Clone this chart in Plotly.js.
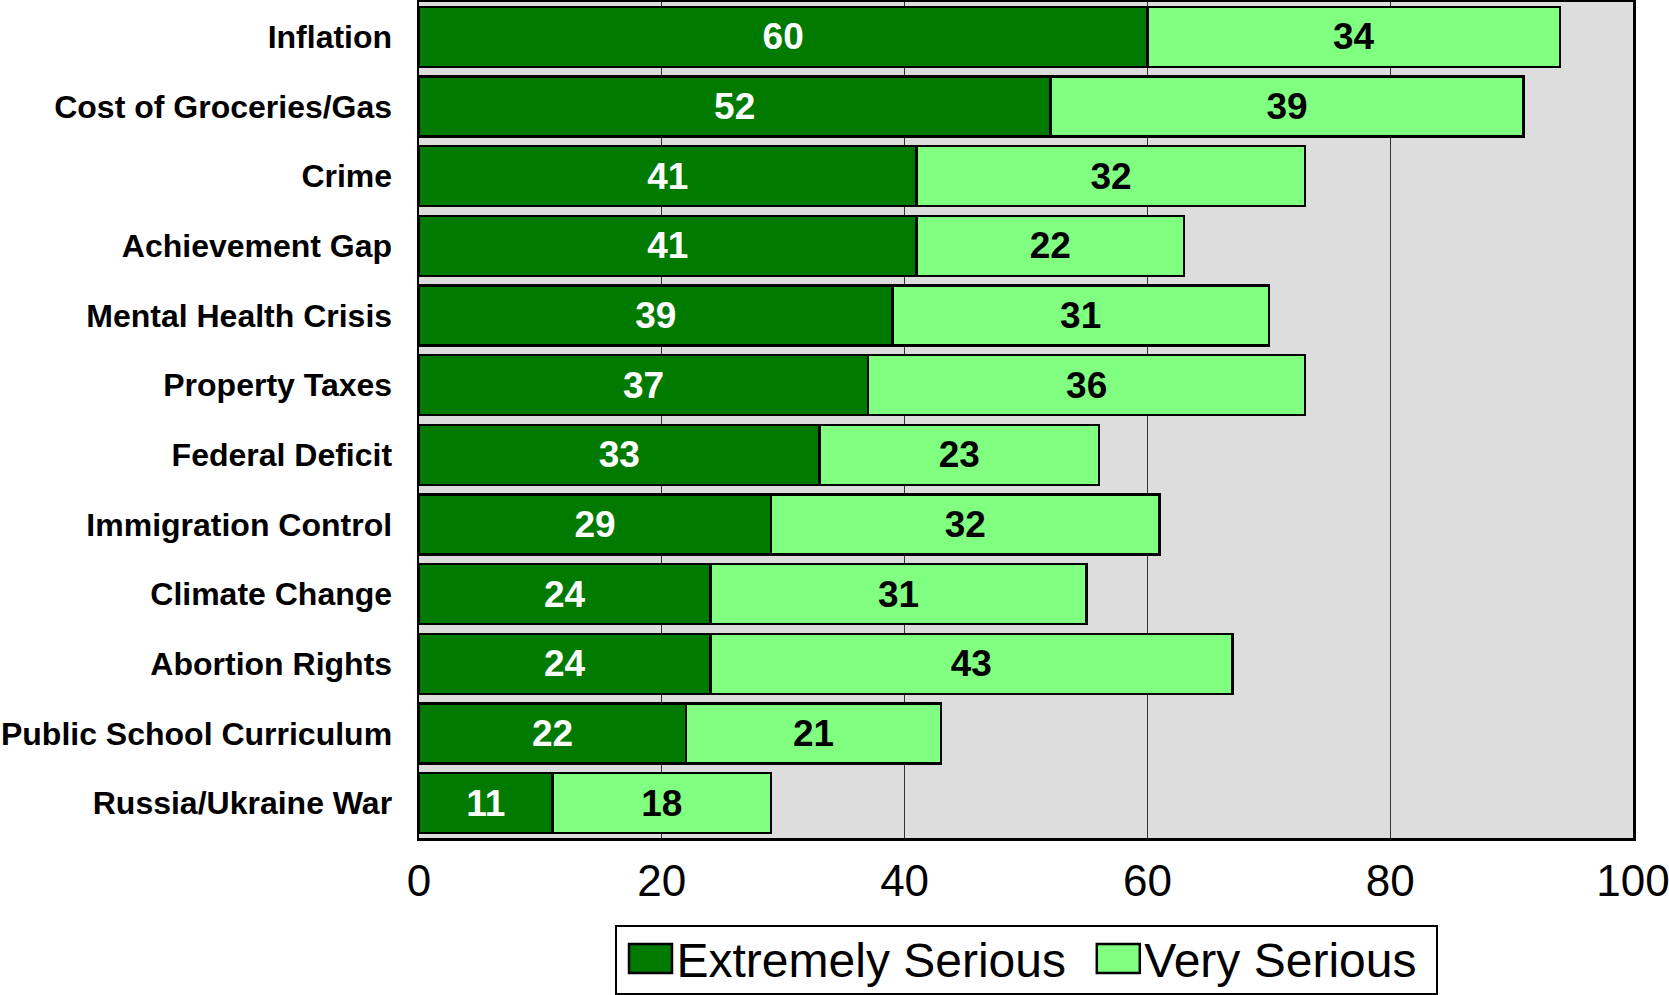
<!DOCTYPE html>
<html>
<head>
<meta charset="utf-8">
<script src="https://cdn.plot.ly/plotly-3.0.1.min.js"></script>
<style>html,body{margin:0;padding:0;background:#fff;}#chart{width:1669px;height:995px;}</style>
</head>
<body>
<div id="chart"></div>
<script>
const categories = ["Inflation","Cost of Groceries/Gas","Crime","Achievement Gap","Mental Health Crisis","Property Taxes","Federal Deficit","Immigration Control","Climate Change","Abortion Rights","Public School Curriculum","Russia/Ukraine War"];
const extremelySerious = [60,52,41,41,39,37,33,29,24,24,22,11];
const verySerious = [34,39,32,22,31,36,23,32,31,43,21,18];
const xTicks = [0,20,40,60,80,100];
const seriesNames = ["Extremely Serious", "Very Serious"];

const FONT = "Arial, 'Liberation Sans', sans-serif";
const LEGEND_FS = 48;

const traces = [
  {
    type: 'bar', orientation: 'h', name: seriesNames[0] + '\u00A0',
    y: categories, x: extremelySerious,
    marker: {color: '#007A00', line: {color: '#000', width: 2.5}},
    text: extremelySerious.map(String), textposition: 'inside', insidetextanchor: 'middle',
    textangle: 0, constraintext: 'none',
    textfont: {family: FONT, size: 37, color: '#fff', weight: 'bold'},
    hoverinfo: 'x+y'
  },
  {
    type: 'bar', orientation: 'h', name: seriesNames[1] + '\u00A0',
    y: categories, x: verySerious,
    marker: {color: '#80FF80', line: {color: '#000', width: 2.5}},
    text: verySerious.map(String), textposition: 'inside', insidetextanchor: 'middle',
    textangle: 0, constraintext: 'none',
    textfont: {family: FONT, size: 37, color: '#000', weight: 'bold'},
    hoverinfo: 'x+y'
  }
];

const layout = {
  width: 1669, height: 995,
  margin: {l: 419, r: 36, t: 2, b: 157, pad: 0, autoexpand: false},
  paper_bgcolor: '#fff', plot_bgcolor: '#DDDDDD',
  barmode: 'stack', bargap: 0.14,
  font: {family: FONT, color: '#000'},
  xaxis: {
    range: [0, 100], tickvals: xTicks, ticktext: xTicks.map(String),
    showgrid: true, gridcolor: '#333', gridwidth: 1,
    showline: true, mirror: true, linecolor: '#000', linewidth: 2.5,
    zeroline: false, ticks: '', ticklabelstandoff: 3, ticklabeloverflow: 'allow',
    automargin: false,
    tickfont: {family: FONT, size: 44, color: '#000'}, fixedrange: true
  },
  yaxis: {
    autorange: 'reversed', showgrid: false,
    showline: true, mirror: true, linecolor: '#000', linewidth: 2.5,
    ticks: '', ticklabelstandoff: 18, automargin: false,
    tickfont: {family: FONT, size: 32, color: '#000', weight: 'bold'}, fixedrange: true
  },
  showlegend: true,
  legend: {
    orientation: 'h', x: 0.5, xanchor: 'center', y: -0.104, yanchor: 'top',
    bgcolor: '#fff', bordercolor: '#000', borderwidth: 2,
    font: {family: FONT, size: LEGEND_FS, color: '#000'},
    itemwidth: 50, traceorder: 'normal'
  }
};

let legendAdjusted = false;
function fixLegend(){
  try {
    document.querySelectorAll('#chart .legend .legendpoints path').forEach(function(p){
      p.setAttribute('d', 'M25.5,14.5H-17.5V-14.5H25.5Z');
    });
    const bg = document.querySelector('#chart .legend rect.bg');
    if (bg) {
      const r = bg.getBoundingClientRect();
      const h = 993.5 - r.top;
      if (h > 20) bg.setAttribute('height', h);
    }
    if (!legendAdjusted) {
      const txt = document.querySelector('#chart .legend text.legendtext');
      if (txt) {
        const tr = txt.getBoundingClientRect();
        const dy = 934.3 - tr.top;
        document.querySelectorAll('#chart .legend g.traces').forEach(function(g){
          const t = g.getAttribute('transform') || '';
          g.setAttribute('transform', t + ' translate(0,' + dy.toFixed(2) + ')');
        });
        legendAdjusted = true;
      }
    }
  } catch (e) {}
}
const gd = document.getElementById('chart');
Plotly.newPlot(gd, traces, layout, {displayModeBar: false, staticPlot: true}).then(function(){
  fixLegend();
});
</script>
</body>
</html>
